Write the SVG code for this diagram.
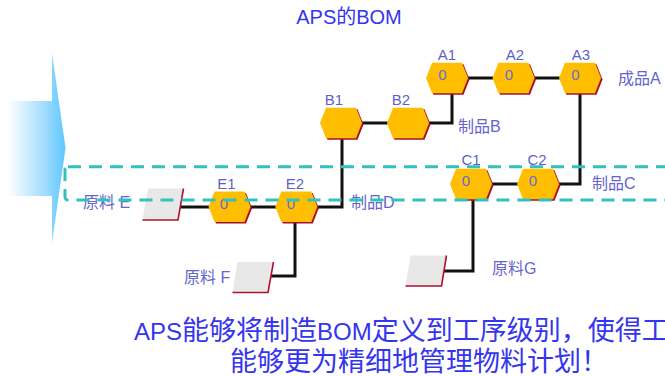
<svg xmlns="http://www.w3.org/2000/svg" xmlns:xlink="http://www.w3.org/1999/xlink" width="665" height="376" viewBox="0 0 665 376">
<defs>
<linearGradient id="arrowGrad" gradientUnits="userSpaceOnUse" x1="8" y1="0" x2="66" y2="0">
<stop offset="0" stop-color="#ffffff"/>
<stop offset="0.6" stop-color="#a6defd"/>
<stop offset="1" stop-color="#5cc7ff"/>
</linearGradient>
<polygon id="hex" points="-15,-15.3 15,-15.3 21,0 15,15.3 -15,15.3 -21,0"/>
<style>
.hexsh{fill:#a8102c}
.hexfill{fill:#ffbf00}
.lbl{font-family:"Liberation Sans","Noto Sans CJK SC",sans-serif;font-size:15px;fill:#5f5fc9}
.zero{font-family:"Liberation Sans",sans-serif;font-size:15px;fill:#6a6ad0;text-anchor:middle}
.name{font-family:"Liberation Sans","Noto Sans CJK SC",sans-serif;font-size:16px;fill:#6464cc}
.conn{fill:none;stroke:#111;stroke-width:3}
.raw{fill:#e8e8e8}
.rawedge{fill:none;stroke:#b01030;stroke-width:1.6}
.big{font-family:"Noto Sans CJK SC",sans-serif;fill:#3535ee}
.lat{font-family:"Liberation Sans",sans-serif}
</style>
</defs>
<rect x="0" y="0" width="665" height="376" fill="#ffffff"/>
<polygon points="0,101 52,101 52,53 65.5,148 52,243 52,196 0,196" fill="url(#arrowGrad)"/>
<text x="349" y="23.5" text-anchor="middle" font-family="Liberation Sans, Noto Sans CJK SC, sans-serif" font-size="20" fill="#3535ee">APS的BOM</text>
<g id="connectors">
<path class="conn" d="M180,207 H210"/>
<path class="conn" d="M249,207 H277"/>
<path class="conn" d="M315,207 H342 V137"/>
<path class="conn" d="M361,123 H388"/>
<path class="conn" d="M427,123 H452 V92"/>
<path class="conn" d="M467,78 H493"/>
<path class="conn" d="M533,78 H560"/>
<path class="conn" d="M580,92 V184 H558"/>
<path class="conn" d="M491,184 H518"/>
<path class="conn" d="M295,221 V276 H271"/>
<path class="conn" d="M473,198 V271 H443"/>
</g>
<g id="A1"><use href="#hex" class="hexsh" x="448.5" y="79.5"/><use href="#hex" class="hexfill" x="447" y="78"/><text class="zero" x="442.5" y="79.5">0</text><text class="lbl" x="447" y="60" text-anchor="middle">A1</text></g>
<g id="A2"><use href="#hex" class="hexsh" x="515" y="79.5"/><use href="#hex" class="hexfill" x="513.5" y="78"/><text class="zero" x="509" y="79.5">0</text><text class="lbl" x="515" y="60" text-anchor="middle">A2</text></g>
<g id="A3"><use href="#hex" class="hexsh" x="581.5" y="79.5"/><use href="#hex" class="hexfill" x="580" y="78"/><text class="zero" x="575.5" y="79.5">0</text><text class="lbl" x="581" y="60" text-anchor="middle">A3</text></g>
<g id="productA"><text class="name" x="618" y="84">成品A</text></g>
<g id="B1"><use href="#hex" class="hexsh" x="342.5" y="124.5"/><use href="#hex" class="hexfill" x="341" y="123"/><text class="lbl" x="334" y="105" text-anchor="middle">B1</text></g>
<g id="B2"><use href="#hex" class="hexsh" x="409.5" y="124.5"/><use href="#hex" class="hexfill" x="408" y="123"/><text class="lbl" x="401" y="105" text-anchor="middle">B2</text></g>
<g id="productB"><text class="name" x="458" y="132">制品B</text></g>
<g id="C1"><use href="#hex" class="hexsh" x="472.5" y="185.5"/><use href="#hex" class="hexfill" x="471" y="184"/><text class="zero" x="466" y="185.5">0</text><text class="lbl" x="471" y="165" text-anchor="middle">C1</text></g>
<g id="C2"><use href="#hex" class="hexsh" x="539.5" y="185.5"/><use href="#hex" class="hexfill" x="538" y="184"/><text class="zero" x="533" y="185.5">0</text><text class="lbl" x="537" y="165" text-anchor="middle">C2</text></g>
<g id="productC"><text class="name" x="592" y="189">制品C</text></g>
<g id="E1"><use href="#hex" class="hexsh" x="231" y="208.2"/><use href="#hex" class="hexfill" x="229.5" y="206.7"/><text class="zero" x="224" y="208.5">0</text><text class="lbl" x="226.5" y="189" text-anchor="middle">E1</text></g>
<g id="E2"><use href="#hex" class="hexsh" x="297.8" y="208.2"/><use href="#hex" class="hexfill" x="296.3" y="206.7"/><text class="zero" x="291" y="208.5">0</text><text class="lbl" x="295" y="189" text-anchor="middle">E2</text></g>
<g id="productD"><text class="name" x="351" y="208">制品D</text></g>
<g id="rawE"><polygon class="raw" points="148,188.5 183.5,188.5 178,220 142.5,220"/><polyline class="rawedge" points="183.5,188.5 178,220 142.5,220"/><text class="name" x="83" y="208">原料 E</text></g>
<g id="rawF"><polygon class="raw" points="237.5,262 273.5,262 268,292.5 232.5,292.5"/><polyline class="rawedge" points="273.5,262 268,292.5 232.5,292.5"/><text class="name" x="184" y="283">原料 F</text></g>
<g id="rawG"><polygon class="raw" points="410.5,255.5 446.5,255.5 441.5,286 405.5,286"/><polyline class="rawedge" points="446.5,255.5 441.5,286 405.5,286"/><text class="name" x="492" y="274">原料G</text></g>
<rect x="65" y="166.7" width="660" height="33.3" rx="3" ry="3" fill="none" stroke="#33c0c0" stroke-width="3" stroke-dasharray="13,8"/>
<text class="big" x="134" y="340" font-size="27"><tspan class="lat" font-size="24">APS</tspan>能够将制造<tspan class="lat" font-size="24">BOM</tspan>定义到工序级别，使得工</text>
<text class="big" x="230" y="371" font-size="27">能够更为精细地管理物料计划！</text>
</svg>
